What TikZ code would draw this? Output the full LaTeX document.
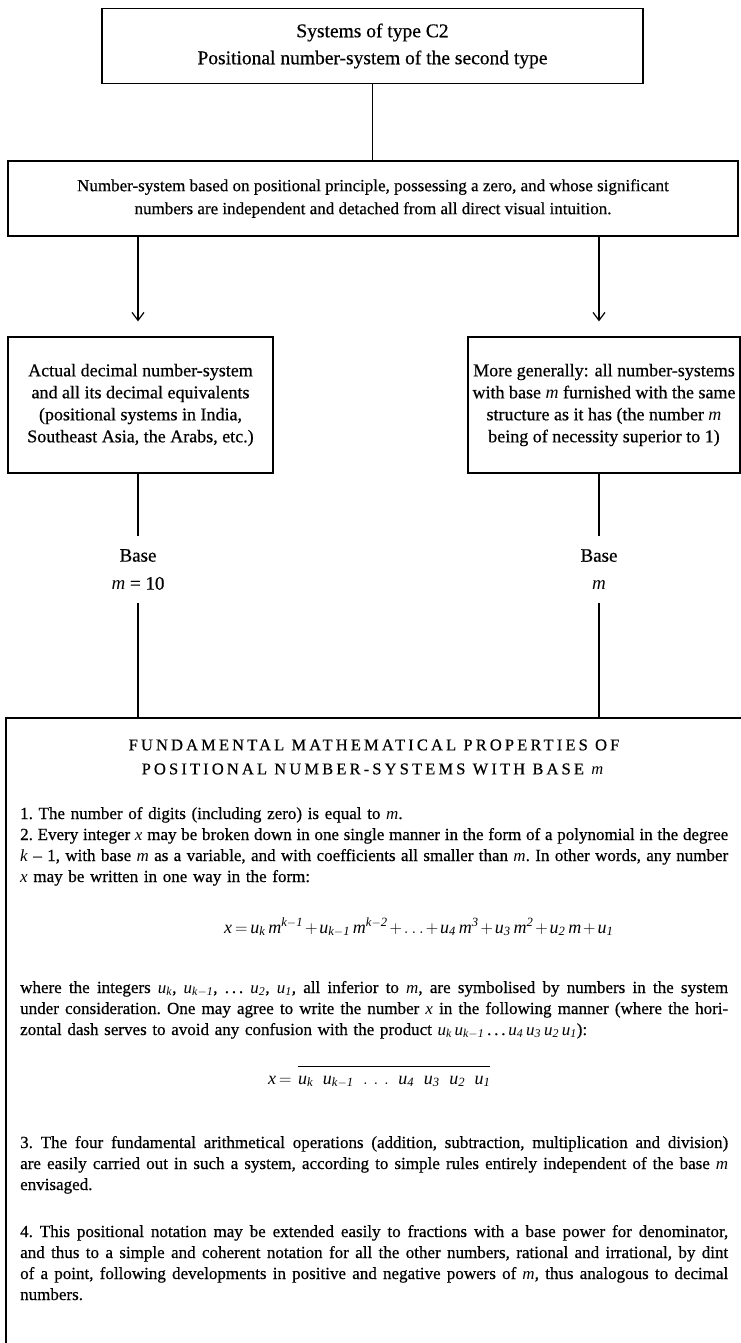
\documentclass[tikz,border=0pt]{standalone}
\usepackage{amsmath}
\usepackage{fontspec}
\setmainfont{Liberation Serif}[UprightFeatures={FakeBold=0.5}]
\usetikzlibrary{arrows.meta}
\newcommand\vi[1]{\textit{#1}}
\newcommand\jl[1]{\leavevmode\hbox to 708pt{\spaceskip=0.25em plus 0.6em minus 0.08em\xspaceskip=\spaceskip #1}}
\newcommand\tightmath{\medmuskip=2mu\thickmuskip=3mu}
\newcommand\gp{\mkern10mu}
\begin{document}
\begin{tikzpicture}[x=1pt,y=-1pt,
  box/.style={draw, line width=1.3pt, inner sep=0pt, align=center, font=\fontsize{17}{23}\selectfont},
  lab/.style={inner sep=0pt, align=center, font=\fontsize{19}{28}\selectfont},
  para/.style={inner sep=0pt, anchor=base west, text width=708pt, align=left, font=\fontsize{17}{21}\selectfont\frenchspacing},
  formula/.style={inner sep=0pt, anchor=base west, font=\fontsize{18}{21}\selectfont},
  conn/.style={line width=1.2pt},
  arr/.style={conn, -{Straight Barb[length=8pt,width=12pt]}}]
\useasboundingbox (0,0) rectangle (741,1343);
\fill[white] (0,0) rectangle (741,1343);

\node[box, line width=1.6pt, minimum width=541pt, minimum height=75pt, font=\fontsize{19.5}{27}\selectfont] (top) at (372.5,46)
  {Systems of type C2\\Positional number-system of the second type};
\node[box, minimum width=730pt, minimum height=75pt] (sys) at (373,198.5)
  {Number-system based on positional principle, possessing a zero, and whose significant\\numbers are independent and detached from all direct visual intuition.};
\node[box, minimum width=265pt, minimum height=136pt, font=\fontsize{18}{22}\selectfont] (lbox) at (140.5,405)
  {Actual decimal number-system\\and all its decimal equivalents\\(positional systems in India,\\Southeast Asia, the Arabs, etc.)};
\node[box, minimum width=272pt, minimum height=136pt, font=\fontsize{18}{22}\selectfont] (rbox) at (604,405)
  {More generally: all number-systems\\with base \vi{m} furnished with the same\\structure as it has (the number \vi{m}\\being of necessity superior to 1)};

\node[lab, minimum height=67pt] (lbase) at (138,569.5) {Base\\\vi{m} = 10};
\node[lab, minimum height=67pt] (rbase) at (599,569.5) {Base\\\vi{m}};

\coordinate (bottl) at (6,718);
\coordinate (bottr) at (741,718);
\coordinate (botbl) at (6,1343);
\draw[conn] (bottr) -- (bottl) -- (botbl);

\draw[conn] (top.south) -- (top.south |- sys.north);
\draw[arr, shorten >=15pt] (sys.south -| lbase) -- (lbox.north -| lbase);
\draw[arr, shorten >=15pt] (sys.south -| rbase) -- (rbox.north -| rbase);
\draw[conn] (lbox.south -| lbase) -- (lbase.north);
\draw[conn] (lbase.south) -- (lbase |- bottl);
\draw[conn] (rbox.south -| rbase) -- (rbase.north);
\draw[conn] (rbase.south) -- (rbase |- bottl);

\node[inner sep=0pt, align=center, font=\fontsize{16.5}{24}\selectfont\addfontfeature{LetterSpace=19}] (head) at (374,757)
  {FUNDAMENTAL MATHEMATICAL PROPERTIES OF\\POSITIONAL NUMBER-SYSTEMS WITH BASE \vi{m}};

\node[para] (p1) at (20,819) {1. The number of digits (including zero) is equal to \vi{m}.\\
\jl{2. Every integer \vi{x} may be broken down in one single manner in the form of a polynomial in the degree}\\
\jl{\vi{k} -- 1, with base \vi{m} as a variable, and with coefficients all smaller than \vi{m}. In other words, any number}\\
\vi{x} may be written in one way in the form:};

\node[formula] (f1) at (224,933) {\tightmath$\vi{x} = \vi{u}_{\vi{k}}\,\vi{m}^{\vi{k}-\vi{1}} + \vi{u}_{\vi{k}-\vi{1}}\,\vi{m}^{\vi{k}-\vi{2}} + .\,.\,. + \vi{u}_{\vi{4}}\,\vi{m}^{\vi{3}} + \vi{u}_{\vi{3}}\,\vi{m}^{\vi{2}} + \vi{u}_{\vi{2}}\,\vi{m} + \vi{u}_{\vi{1}}$};

\node[para] (p2) at (20,993) {\jl{where the integers $\vi{u}_{\vi{k}}$, $\vi{u}_{\vi{k}-\vi{1}}$, .\,.\,. $\vi{u}_{\vi{2}}$, $\vi{u}_{\vi{1}}$, all inferior to \vi{m}, are symbolised by numbers in the system}\\
\jl{under consideration. One may agree to write the number \vi{x} in the following manner (where the hori-}\\
zontal dash serves to avoid any confusion with the product $\vi{u}_{\vi{k}}\,\vi{u}_{\vi{k}-\vi{1}}$\,.\,.\,.\,$\vi{u}_{\vi{4}}\,\vi{u}_{\vi{3}}\,\vi{u}_{\vi{2}}\,\vi{u}_{\vi{1}}$):};

\node[formula] (f2) at (268,1084) {\tightmath$\vi{x} = \mkern4mu\overline{\vi{u}_{\vi{k}}\gp\vi{u}_{\vi{k}-\vi{1}}\gp.\mkern6mu.\mkern6mu.\gp\vi{u}_{\vi{4}}\gp\vi{u}_{\vi{3}}\gp\vi{u}_{\vi{2}}\gp\vi{u}_{\vi{1}}\vphantom{k^{|}}}$};

\node[para] (p3) at (20,1148) {\jl{3. The four fundamental arithmetical operations (addition, subtraction, multiplication and division)}\\
\jl{are easily carried out in such a system, according to simple rules entirely independent of the base \vi{m}}\\
envisaged.};

\node[para] (p4) at (20,1237) {\jl{4. This positional notation may be extended easily to fractions with a base power for denominator,}\\
\jl{and thus to a simple and coherent notation for all the other numbers, rational and irrational, by dint}\\
\jl{of a point, following developments in positive and negative powers of \vi{m}, thus analogous to decimal}\\
numbers.};
\end{tikzpicture}
\end{document}
